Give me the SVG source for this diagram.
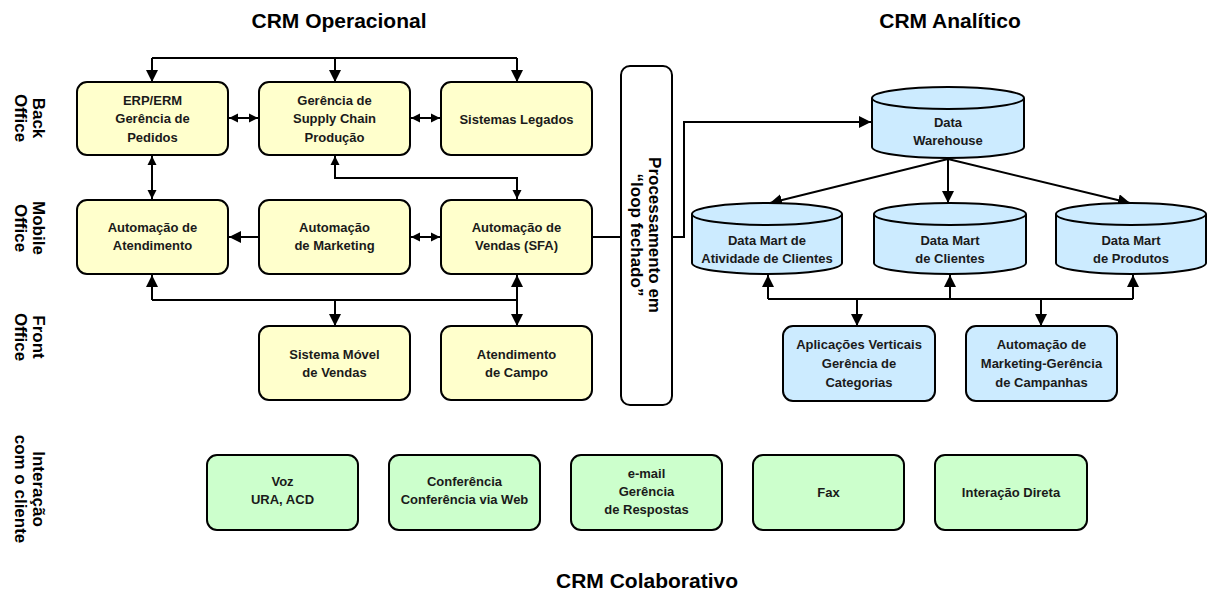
<svg xmlns="http://www.w3.org/2000/svg" width="1210" height="592" viewBox="0 0 1210 592">
<defs>
<marker id="ah" viewBox="0 0 10 10" refX="10" refY="5" markerWidth="12" markerHeight="12" markerUnits="userSpaceOnUse" orient="auto-start-reverse">
<path d="M0,0 L10,5 L0,10 z" fill="#000"/>
</marker>
<marker id="ahs" viewBox="0 0 10 10" refX="10" refY="5" markerWidth="9" markerHeight="10" markerUnits="userSpaceOnUse" orient="auto-start-reverse">
<path d="M0,0 L10,5 L0,10 z" fill="#000"/>
</marker>
</defs>
<style>
.y{fill:#FFFFCC;stroke:#000;stroke-width:2}
.b{fill:#CCEBFF;stroke:#000;stroke-width:2}
.g{fill:#CCFFCC;stroke:#000;stroke-width:2}
.w{fill:#fff;stroke:#000;stroke-width:2}
.t{font-family:"Liberation Sans",Arial,sans-serif;font-size:13px;font-weight:bold;fill:#1a1a1a;text-anchor:middle}
.h{font-family:"Liberation Sans",Arial,sans-serif;font-size:21px;font-weight:bold;fill:#000;text-anchor:middle}
.s{font-family:"Liberation Sans",Arial,sans-serif;font-size:17px;font-weight:bold;fill:#000;text-anchor:middle}
.c{fill:none;stroke:#000;stroke-width:2}
.a{marker-end:url(#ah)}
.d{marker-start:url(#ahs);marker-end:url(#ahs)}
</style>
<rect width="1210" height="592" fill="#fff"/>
<g id="titles">
<text class="h" x="339" y="28">CRM Operacional</text>
<text class="h" x="950" y="28">CRM Analítico</text>
<text class="h" x="647" y="588">CRM Colaborativo</text>
</g>
<g id="side-labels">
<text class="s" transform="translate(31,118) rotate(90)"><tspan x="0" y="-2">Back</tspan><tspan x="0" y="16">Office</tspan></text>
<text class="s" transform="translate(31,228) rotate(90)"><tspan x="0" y="-2">Mobile</tspan><tspan x="0" y="16">Office</tspan></text>
<text class="s" transform="translate(31,337) rotate(90)"><tspan x="0" y="-2">Front</tspan><tspan x="0" y="16">Office</tspan></text>
<text class="s" transform="translate(31,489) rotate(90)"><tspan x="0" y="-2">Interação</tspan><tspan x="0" y="16">com o cliente</tspan></text>
</g>
<g id="connectors">
<path class="c" d="M152,58 H517"/>
<path class="c" d="M335,58 H517" stroke-width="3.5"/>
<path class="c a" d="M152,58 V82"/>
<path class="c a" d="M335,58 V82"/>
<path class="c a" d="M517,58 V82"/>
<path class="c d" d="M229,118 H258"/>
<path class="c d" d="M411,118 H440"/>
<path class="c d" d="M152,156 V199"/>
<path class="c d" d="M335,156 V178 H517 V199"/>
<path class="c a" d="M259,237 H229"/>
<path class="c d" d="M411,237 H440"/>
<path class="c" d="M592,237 H621"/>
<path class="c a" d="M152,300 V275"/>
<path class="c" d="M152,300 H517"/>
<path class="c a" d="M517,300 V275"/>
<path class="c a" d="M335,300 V326"/>
<path class="c a" d="M517,300 V326"/>
<path class="c a" d="M672,237 H684 V122 H871"/>
<path class="c a" d="M948,159 L770,203"/>
<path class="c a" d="M948,159 V203"/>
<path class="c a" d="M948,159 L1130,203"/>
<path class="c a" d="M768,299 V275"/>
<path class="c a" d="M950,299 V275"/>
<path class="c a" d="M1133,299 V275"/>
<path class="c" d="M768,299 H1133"/>
<path class="c a" d="M857,299 V326"/>
<path class="c a" d="M1041,299 V326"/>
</g>
<g id="erp"><rect class="y" x="77" y="82" width="151" height="73" rx="10"/><text class="t"><tspan x="152.5" y="105">ERP/ERM</tspan><tspan x="152.5" y="123">Gerência de</tspan><tspan x="152.5" y="142">Pedidos</tspan></text></g>
<g id="supply"><rect class="y" x="259" y="82" width="151" height="73" rx="10"/><text class="t"><tspan x="334.5" y="105">Gerência de</tspan><tspan x="334.5" y="123">Supply Chain</tspan><tspan x="334.5" y="142">Produção</tspan></text></g>
<g id="legados"><rect class="y" x="441" y="82" width="151" height="73" rx="10"/><text class="t" x="516.5" y="124">Sistemas Legados</text></g>
<g id="atendimento"><rect class="y" x="77" y="200" width="151" height="74" rx="10"/><text class="t"><tspan x="152.5" y="232">Automação de</tspan><tspan x="152.5" y="250">Atendimento</tspan></text></g>
<g id="marketing"><rect class="y" x="259" y="200" width="151" height="74" rx="10"/><text class="t"><tspan x="334.5" y="232">Automação</tspan><tspan x="334.5" y="250">de Marketing</tspan></text></g>
<g id="vendas"><rect class="y" x="441" y="200" width="151" height="74" rx="10"/><text class="t"><tspan x="516.5" y="232">Automação de</tspan><tspan x="516.5" y="250">Vendas (SFA)</tspan></text></g>
<g id="movel"><rect class="y" x="259" y="326" width="151" height="74" rx="10"/><text class="t"><tspan x="334.5" y="359">Sistema Móvel</tspan><tspan x="334.5" y="377">de Vendas</tspan></text></g>
<g id="campo"><rect class="y" x="441" y="326" width="151" height="74" rx="10"/><text class="t"><tspan x="516.5" y="359">Atendimento</tspan><tspan x="516.5" y="377">de Campo</tspan></text></g>
<g id="loop"><rect class="w" x="621" y="66" width="51" height="339" rx="9"/><text class="s" transform="translate(646.5,235) rotate(90)"><tspan x="0" y="-2">Processamento em</tspan><tspan x="0" y="16">“loop fechado”</tspan></text></g>
<g id="dw"><path class="b" d="M872,98 A76,11 0 0 1 1024,98 V147 A76,11 0 0 1 872,147 Z"/><path class="c" d="M872,98 A76,11 0 0 0 1024,98"/><text class="t"><tspan x="948" y="127">Data</tspan><tspan x="948" y="145">Warehouse</tspan></text></g>
<g id="dm-atividade"><path class="b" d="M692,214 A75,11 0 0 1 842,214 V263 A75,11 0 0 1 692,263 Z"/><path class="c" d="M692,214 A75,11 0 0 0 842,214"/><text class="t"><tspan x="767" y="245">Data Mart de</tspan><tspan x="767" y="263">Atividade de Clientes</tspan></text></g>
<g id="dm-clientes"><path class="b" d="M874,214 A76,11 0 0 1 1026,214 V263 A76,11 0 0 1 874,263 Z"/><path class="c" d="M874,214 A76,11 0 0 0 1026,214"/><text class="t"><tspan x="950" y="245">Data Mart</tspan><tspan x="950" y="263">de Clientes</tspan></text></g>
<g id="dm-produtos"><path class="b" d="M1056,214 A75,11 0 0 1 1206,214 V263 A75,11 0 0 1 1056,263 Z"/><path class="c" d="M1056,214 A75,11 0 0 0 1206,214"/><text class="t"><tspan x="1131" y="245">Data Mart</tspan><tspan x="1131" y="263">de Produtos</tspan></text></g>
<g id="aplicacoes"><rect class="b" x="783" y="326" width="152" height="75" rx="10"/><text class="t"><tspan x="859" y="349">Aplicações Verticais</tspan><tspan x="859" y="368">Gerência de</tspan><tspan x="859" y="387">Categorias</tspan></text></g>
<g id="campanhas"><rect class="b" x="966" y="326" width="151" height="75" rx="10"/><text class="t"><tspan x="1041.5" y="349">Automação de</tspan><tspan x="1041.5" y="368">Marketing-Gerência</tspan><tspan x="1041.5" y="387">de Campanhas</tspan></text></g>
<g id="voz"><rect class="g" x="207" y="455" width="151" height="75" rx="10"/><text class="t"><tspan x="282.5" y="486">Voz</tspan><tspan x="282.5" y="504">URA, ACD</tspan></text></g>
<g id="conferencia"><rect class="g" x="389" y="455" width="151" height="75" rx="10"/><text class="t"><tspan x="464.5" y="486">Conferência</tspan><tspan x="464.5" y="504">Conferência via Web</tspan></text></g>
<g id="email"><rect class="g" x="571" y="455" width="151" height="75" rx="10"/><text class="t"><tspan x="646.5" y="478">e-mail</tspan><tspan x="646.5" y="496">Gerência</tspan><tspan x="646.5" y="514">de Respostas</tspan></text></g>
<g id="fax"><rect class="g" x="753" y="455" width="151" height="75" rx="10"/><text class="t" x="828.5" y="497">Fax</text></g>
<g id="direta"><rect class="g" x="935" y="455" width="152" height="75" rx="10"/><text class="t" x="1011" y="497">Interação Direta</text></g>
</svg>
